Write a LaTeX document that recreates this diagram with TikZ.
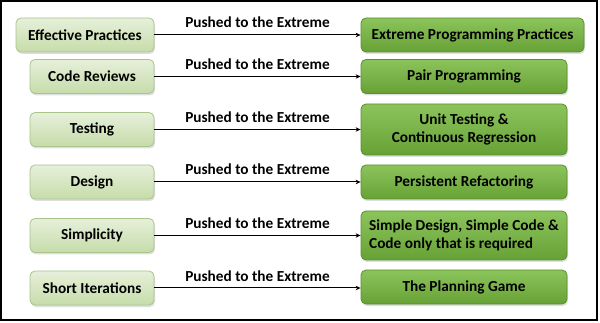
\documentclass[tikz,border=0pt]{standalone}
\usepackage{fontspec}
\setmainfont{Carlito}
\usetikzlibrary{arrows.meta,shadows}
\definecolor{lgtop}{HTML}{E6F0DA}
\definecolor{lgbot}{HTML}{C6DCAA}
\definecolor{lgdraw}{HTML}{A9C48A}
\definecolor{dgtop}{HTML}{8CC45C}
\definecolor{dgbot}{HTML}{67A236}
\definecolor{dgdraw}{HTML}{5A8F2E}
\begin{document}
\begin{tikzpicture}[x=1pt,y=-1pt,
  srcbox/.style={draw=lgdraw, line width=0.8pt, rounded corners=5pt,
    top color=lgtop, bottom color=lgbot, minimum height=34pt,
    font=\fontsize{15.3}{17.5}\selectfont\bfseries, text=black, inner sep=2pt,
    drop shadow={opacity=0.25, shadow xshift=1pt, shadow yshift=-2pt}},
  dstbox/.style={draw=dgdraw, line width=0.8pt, rounded corners=5pt,
    top color=dgtop, bottom color=dgbot, minimum height=34pt,
    font=\fontsize{15.3}{17.5}\selectfont\bfseries, text=black, inner sep=2pt,
    drop shadow={opacity=0.25, shadow xshift=1pt, shadow yshift=-2pt}},
  conn/.style={line width=1pt, -{Stealth[length=5pt,width=4.5pt]}},
  lbl/.style={font=\fontsize{15.3}{17.5}\selectfont\bfseries, anchor=base, yshift=7pt, inner sep=0pt}
]
\useasboundingbox (0,0) rectangle (600,323);
\draw[line width=1.3pt] (1,1) rectangle (597,320);

\node[srcbox, minimum width=138pt] (l1) at (85,35) {Effective Practices};
\node[srcbox, minimum width=124pt] (l2) at (92,76.5) {Code Reviews};
\node[srcbox, minimum width=124pt] (l3) at (92,129.5) {Testing};
\node[srcbox, minimum width=124pt] (l4) at (92,182) {Design};
\node[srcbox, minimum width=124pt] (l5) at (92,235.5) {Simplicity};
\node[srcbox, minimum width=124pt] (l6) at (92,288) {Short Iterations};

\node[dstbox, minimum width=223pt] (r1) at (472.5,35) {Extreme Programming Practices};
\node[dstbox, minimum width=206pt] (r2) at (464,76.5) {Pair Programming};
\node[dstbox, minimum width=206pt, minimum height=51pt, align=center] (r3) at (464,129.5) {Unit Testing \&\\Continuous Regression};
\node[dstbox, minimum width=206pt] (r4) at (464,182) {Persistent Refactoring};
\node[dstbox, minimum width=206pt, minimum height=49pt, align=left] (r5) at (464,235.5) {Simple Design, Simple Code \&\\Code only that is required};
\node[dstbox, minimum width=206pt] (r6) at (464,287) {The Planning Game};

\foreach \i in {1,...,6}{
  \draw[conn] (l\i.east) -- (r\i.west |- l\i.east) node[lbl, midway] {Pushed to the Extreme};
}
\end{tikzpicture}
\end{document}
